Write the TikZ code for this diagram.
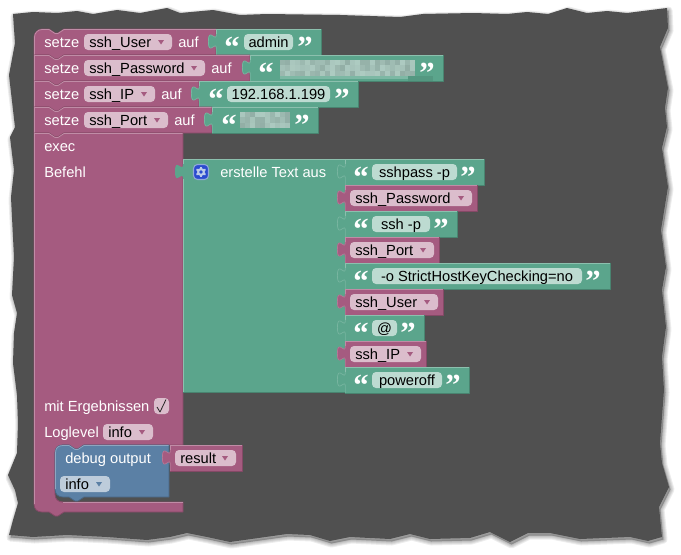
\documentclass[tikz,border=0pt]{standalone}
\usepackage{fontspec}
\usetikzlibrary{calc}
\setmainfont{Liberation Sans}
\newfontfamily\qfont{Liberation Serif}
\definecolor{bgdark}{HTML}{505050}
\definecolor{purfill}{HTML}{A55B80}\definecolor{purdark}{HTML}{844966}\definecolor{purlight}{HTML}{C08CA6}\definecolor{purfield}{HTML}{DBBDCC}
\definecolor{grefill}{HTML}{5BA58C}\definecolor{gredark}{HTML}{498470}\definecolor{grelight}{HTML}{8CC0AE}\definecolor{grefield}{HTML}{BDDBD1}
\definecolor{blufill}{HTML}{5B80A5}\definecolor{bludark}{HTML}{496684}\definecolor{blulight}{HTML}{8CA6C0}\definecolor{blufield}{HTML}{BDCCDB}
\definecolor{iconblue}{HTML}{2B4BCF}\definecolor{iconedge}{HTML}{8FA8D8}\definecolor{blurgray}{HTML}{7F9A92}
\tikzset{
  x=0.75pt,y=-0.75pt,
  lbl/.style={anchor=base west,inner sep=0pt,text=white,font=\fontsize{11}{13}\selectfont},
  fldtxt/.style={inner sep=0pt,text=black,font=\fontsize{11}{13}\selectfont},
  quot/.style={inner sep=0pt,anchor=base,text=white,font=\qfont\bfseries\fontsize{23}{23}\selectfont},
  edge/.style={line width=0.6pt,line join=round},
}
\def\tornpath{(13,14) -- (33,12) -- (57,13) -- (77,11) -- (93,14) -- (117,10) -- (140,13) -- (167,8) -- (180,13) -- (213,10) -- (240,15) -- (267,14) -- (340,15) -- (400,17) -- (423,14) -- (473,13) -- (507,14) -- (527,12) -- (548,14) -- (567,8) -- (587,13) -- (607,11) -- (627,13) -- (667,8) -- (668,28) -- (660,47) -- (668,88) -- (665,108) -- (667,127) -- (662,148) -- (668,187) -- (661,230) -- (666,267) -- (662,290) -- (666,327) -- (662,357) -- (664,390) -- (660,443) -- (662,463) -- (669,487) -- (659,507) -- (662,537) -- (648,541) -- (630,537) -- (580,539) -- (550,533) -- (528,533) -- (510,542) -- (490,532) -- (470,538) -- (430,539) -- (410,534) -- (390,539) -- (350,537) -- (330,541) -- (310,535) -- (287,534) -- (230,542) -- (207,537) -- (187,533) -- (170,537) -- (147,540) -- (107,537) -- (67,535) -- (33,537) -- (9,535) -- (13,520) -- (18,503) -- (15,490) -- (8,475) -- (17,453) -- (18,423) -- (17,395) -- (13,363) -- (14,333) -- (17,313) -- (12,295) -- (14,257) -- (11,197) -- (14,170) -- (10,137) -- (15,127) -- (9,75) -- (15,43) -- cycle}
% value block: x, y, right edge width, colour prefix
\newcommand\valblk[4]{\begin{scope}[shift={(#1,#2)}]
  \fill[#4fill] (0,0) -- (#3,0) -- (#3,26) -- (0,26) -- (0,20) .. controls (0,10) and (-8,28) .. (-8,12.5) .. controls (-8,-3) and (0,15) .. (0,5) -- cycle;
  \draw[#4dark,edge] (#3,0) -- (#3,26) -- (0,26);
  \draw[#4light,line width=0.5pt] (#3-0.5,0.4) -- (0.4,0.4) -- (0.4,5);
  \draw[#4light!60!#4fill,line width=0.5pt] (0.4,26) -- (0.4,20) .. controls (0.4,10) and (-7.6,28) .. (-7.6,12.5) .. controls (-7.6,-3) and (0.4,15) .. (0.4,5);
\end{scope}}
% statement row: y, width
\newcommand\setrow[2]{\begin{scope}[shift={(34,#1)}]
  \path[fill=purfill,draw=purdark,edge] (0,0) -- (15,0) -- (21,4) -- (24,4) -- (30,0) -- (#2,0) -- (#2,26) -- (30,26) -- (24,30) -- (21,30) -- (15,26) -- (0,26) -- cycle;
  \draw[purlight,line width=0.6pt] (0.5,26) -- (0.5,0.5) -- (15,0.5) -- (21,4.5) -- (24,4.5) -- (30,0.5) -- (#2-0.5,0.5);
\end{scope}}
% dropdown field: name, x, top y, width, text, colour prefix
\newcommand\ddfld[6]{
  \path[fill=#6field,rounded corners=3pt] (#2,#3) rectangle ++(#4,16);
  \node[fldtxt,anchor=base west] (#1) at (#2+5,#3+13) {#5};
  \fill[#6fill] (#2+#4-14,#3+6) -- (#2+#4-8,#3+6) -- (#2+#4-11,#3+10.5) -- cycle;
}
% text value: name, open quote x, field x, field right, close quote x, y(row top), text
\newcommand\txtval[7]{
  \node[quot] (#1o) at (#2,#6+28) {“};
  \path[fill=grefield,rounded corners=3pt] (#3,#6+5) rectangle (#4,#6+21);
  \node[fldtxt,anchor=base] (#1) at ({(#3+#4)/2},#6+18) {#7};
  \node[quot] (#1c) at (#5,#6+28) {”};
}
\newcommand\blurval[6]{
  \node[quot] (#1o) at (#2,#6+28) {“};
  \pgfmathsetmacro\nc{int((#4-#3)/5)-1}
  \foreach \i in {0,...,\nc} \foreach \j in {0,1,2} {
    \pgfmathsetmacro\mx{int(25+rnd*45)}
    \fill[blurgray!\mx!grefield] (#3+5*\i,#6+5+5.3*\j) rectangle ++(5.05,5.35);
  }
  \node[quot] (#1c) at (#5,#6+28) {”};
}
\begin{document}
\begin{tikzpicture}
\pgfmathsetseed{17}
\useasboundingbox (0,0) rectangle (681,554);
\fill[white] (0,0) rectangle (681,554);
% torn background
\foreach \w in {8,6,4,2}
  \draw[black,opacity=0.07,line width=\w*0.75pt,line join=round,shift={(1.5,2.5)},fill=black,fill opacity=0.07] \tornpath;
\fill[bgdark] \tornpath;

% row 1
\begin{scope}[shift={(34,29)}]
  \path[fill=purfill,draw=purdark,edge] (0,8) .. controls (0,4) and (4,0) .. (8,0) -- (15,0) -- (21,4) -- (24,4) -- (30,0) -- (182,0) -- (182,26) -- (30,26) -- (24,30) -- (21,30) -- (15,26) -- (0,26) -- cycle;
  \draw[purlight,line width=0.6pt] (0.5,26) -- (0.5,8) .. controls (0.5,4) and (4,0.5) .. (8,0.5) -- (15,0.5) -- (21,4.5) -- (24,4.5) -- (30,0.5) -- (182,0.5);
\end{scope}
\node[lbl] (s1) at (44,47) {setze};
\ddfld{v1}{84}{34}{88}{ssh\_User}{pur}
\node[lbl] (a1) at (178,47) {auf};
\valblk{216}{29}{105}{gre}
\txtval{t1}{232}{244}{293}{305}{29}{admin}

% row 2
\setrow{55}{216}
\node[lbl] (s2) at (44,73) {setze};
\ddfld{v2}{84}{60}{121}{ssh\_Password}{pur}
\node[lbl] (a2) at (211,73) {auf};
\valblk{250}{55}{193}{gre}
\blurval{t2}{266}{280}{416}{427}{55}
\fill[grelight!70!grefill] (280,76) rectangle (408,79);
\fill[grefill!92!black] (408,76) rectangle (433,81);

% row 3
\setrow{81}{165}
\node[lbl] (s3) at (44,99) {setze};
\ddfld{v3}{84}{86}{71}{ssh\_IP}{pur}
\node[lbl] (a3) at (161,99) {auf};
\valblk{199}{81}{159}{gre}
\txtval{t3}{216}{227}{330}{342}{81}{192.168.1.199}

% row 4
\setrow{107}{178}
\node[lbl] (s4) at (44,125) {setze};
\ddfld{v4}{84}{112}{84}{ssh\_Port}{pur}
\node[lbl] (a4) at (174,125) {auf};
\valblk{212}{107}{106}{gre}
\blurval{t4}{229}{240}{290}{302}{107}

% exec block
\path[fill=purfill,draw=purdark,edge] (34,133) -- (49,133) -- (55,137) -- (58,137) -- (64,133) -- (183,133) -- (183,445) -- (84,445) -- (78,449) -- (75,449) -- (69,445) -- (63,445) .. controls (58,445) and (55,448) .. (55,453) -- (55,494) .. controls (55,499) and (58,502) .. (63,502) -- (183,502) -- (183,512) -- (64,512) -- (58,516) -- (55,516) -- (49,512) -- (42,512) .. controls (37,512) and (34,509) .. (34,504) -- cycle;
\draw[purlight,line width=0.6pt] (34.5,504) -- (34.5,133.5) -- (49,133.5) -- (55,137.5) -- (58,137.5) -- (64,133.5) -- (182.5,133.5);
\draw[purlight,line width=0.6pt] (63,502.5) -- (182.5,502.5);
\node[lbl] (exec) at (44,151) {exec};
\node[lbl] (befehl) at (44,177) {Befehl};
\node[lbl] (mit) at (44,411) {mit Ergebnissen};
\path[fill=purfield,rounded corners=3pt] (154,398) rectangle (169,414);
\draw[black!85,line width=0.6pt,line join=round] (157,407) -- (160,412) -- (166,399.5);
\node[lbl] (log) at (44,437) {Loglevel};
\ddfld{loglvl}{103}{424}{50}{info}{pur}

% join block
\begin{scope}[shift={(183,159)}]
  \fill[grefill] (0,0) -- (162,0) -- (162,233) -- (0,233) -- (0,20) .. controls (0,10) and (-8,28) .. (-8,12.5) .. controls (-8,-3) and (0,15) .. (0,5) -- cycle;
  \draw[gredark,edge] (162,233) -- (0,233);
  \draw[grelight,line width=0.5pt] (0.4,5) -- (0.4,0.4) -- (162,0.4);
  \draw[grelight,line width=0.5pt] (0.4,20) -- (0.4,232.5);
\end{scope}
\path[fill=iconblue,draw=iconedge,line width=0.8pt,rounded corners=3pt] (193.5,164.5) rectangle (208.5,179.5);
\draw[iconedge!60!white,line width=1.6pt] (201,172) circle [radius=2.9];
\foreach \a in {30,90,...,330}
  \draw[iconedge!60!white,line width=1.3pt] ($(201,172)+(\a:3.4)$) -- ($(201,172)+(\a:5.2)$);
\node[lbl] (join) at (220,177) {erstelle Text aus};

% inputs of the join block
\valblk{345}{159}{139}{gre}
\txtval{i1}{361}{372}{457}{468}{159}{sshpass -p}
\valblk{345}{185}{132}{pur}
\ddfld{i2}{350}{190}{122}{ssh\_Password}{pur}
\valblk{345}{211}{112}{gre}
\txtval{i3}{361}{372}{430}{441}{211}{ssh -p}
\valblk{345}{237}{94}{pur}
\ddfld{i4}{350}{242}{84}{ssh\_Port}{pur}
\valblk{345}{263}{265}{gre}
\txtval{i5}{361}{372}{582}{593}{263}{-o StrictHostKeyChecking=no}
\valblk{345}{289}{98}{pur}
\ddfld{i6}{350}{294}{88}{ssh\_User}{pur}
\valblk{345}{315}{79}{gre}
\txtval{i7}{361}{372}{397}{408}{315}{@}
\valblk{345}{341}{81}{pur}
\ddfld{i8}{350}{346}{71}{ssh\_IP}{pur}
\valblk{345}{367}{124}{gre}
\txtval{i9}{361}{372}{442}{453}{367}{poweroff}

% debug block
\path[fill=blufill,draw=bludark,edge] (55,453) .. controls (55,448) and (58,445) .. (63,445) -- (69,445) -- (75,449) -- (78,449) -- (84,445) -- (169,445) -- (169,497) -- (84,497) -- (78,501) -- (75,501) -- (69,497) -- (63,497) .. controls (58,497) and (55,494) .. (55,489) -- cycle;
\draw[blulight,line width=0.6pt] (55.5,489) -- (55.5,453) .. controls (55.5,448) and (58,445.5) .. (63,445.5) -- (69,445.5) -- (75,449.5) -- (78,449.5) -- (84,445.5) -- (168.5,445.5);
\node[lbl] (dbg) at (65,463) {debug output};
\ddfld{dbglvl}{60}{476}{50}{info}{blu}
\valblk{170}{445}{72}{pur}
\ddfld{res}{175}{450}{61}{result}{pur}
\end{tikzpicture}
\end{document}
